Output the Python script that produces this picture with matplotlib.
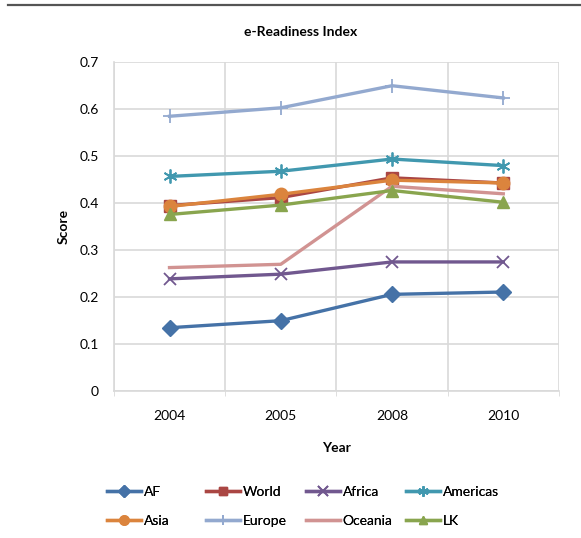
import matplotlib
matplotlib.use("Agg")
import matplotlib.pyplot as plt
from matplotlib.lines import Line2D
import numpy as np

plt.rcParams["font.family"] = ["Lato", "DejaVu Sans"]

years = ["2004", "2005", "2008", "2010"]
af = [0.134, 0.149, 0.205, 0.210]
world = [0.394, 0.411, 0.453, 0.442]
africa = [0.238, 0.248, 0.274, 0.274]
americas = [0.456, 0.467, 0.493, 0.479]
asia = [0.392, 0.418, 0.448, 0.442]
europe = [0.584, 0.602, 0.649, 0.623]
oceania = [0.262, 0.269, 0.435, 0.419]
lk = [0.375, 0.395, 0.426, 0.401]

series = [
    ("AF", af, "#4572A7", "D", 8),
    ("World", world, "#AA4643", "s", 8),
    ("Africa", africa, "#71588F", "x", 9),
    ("Americas", americas, "#4198AF", (6, 2, 0), 10),
    ("Asia", asia, "#DB843D", "o", 9),
    ("Europe", europe, "#93A9CF", "+", 10),
    ("Oceania", oceania, "#D19392", None, 0),
    ("LK", lk, "#89A54E", "^", 8),
]

fig = plt.figure(figsize=(5.81, 5.38), dpi=100)
ax = fig.add_axes([0.196, 0.2738, 0.766, 0.6114])

x = np.arange(len(years))
handles = []
for name, vals, color, marker, ms in series:
    mew = 1.3 if marker in ("x", "+", (6, 2, 0)) else 1
    ax.plot(x, vals, color=color, lw=2.4, marker=marker, ms=ms,
            mec=color, mfc=color, mew=mew, solid_joinstyle="round")
    handles.append(Line2D([], [], color=color, lw=2.4, marker=marker,
                          ms=ms * 0.75, mec=color, mfc=color, mew=mew,
                          label=name))

ax.set_xlim(-0.5, 3.5)
ax.set_ylim(0, 0.7)
ax.set_yticks(np.arange(0, 0.71, 0.1))
ax.set_yticklabels(["0", "0.1", "0.2", "0.3", "0.4", "0.5", "0.6", "0.7"])
ax.set_xticks(x)
ax.set_xticklabels(years)
ax.set_xticks(np.arange(-0.5, 3.6, 1), minor=True)
ax.grid(True, which="minor", axis="x", color="#D9D9D9", lw=1.2)
ax.grid(True, which="major", axis="y", color="#D9D9D9", lw=1.2)
ax.set_axisbelow(True)
ax.tick_params(axis="x", which="major", length=0, pad=14, labelsize=10)
ax.tick_params(axis="x", which="minor", length=3.5, color="#D9D9D9")
ax.tick_params(axis="y", length=0, pad=11, labelsize=10)
for side in ("top", "right"):
    ax.spines[side].set_visible(False)
for side in ("left", "bottom"):
    ax.spines[side].set_color("#D9D9D9")
    ax.spines[side].set_linewidth(1.2)

ax.set_xlabel("Year", fontsize=10, fontweight="bold", labelpad=14)
ax.set_ylabel("Score", fontsize=10, fontweight="bold", labelpad=7)
fig.text(0.517, 0.94, "e-Readiness Index", ha="center", va="center",
         fontsize=10, fontweight="bold")

# rule across the top of the page
fig.add_artist(Line2D([0.014, 1.0], [0.99, 0.99], color="#555555", lw=1.6))

# legend: four evenly spaced columns, two rows each
col_left = [107, 206, 306, 406]
for c, px in enumerate(col_left):
    leg = fig.legend(handles=[handles[c], handles[c + 4]], loc="center left",
                     bbox_to_anchor=(px / 581, 1 - 506.5 / 538),
                     frameon=False, fontsize=10, handlelength=2.45,
                     handletextpad=0.2, labelspacing=1.2, borderpad=0,
                     borderaxespad=0)
    fig.add_artist(leg)

fig.savefig("out.png", dpi=100)
